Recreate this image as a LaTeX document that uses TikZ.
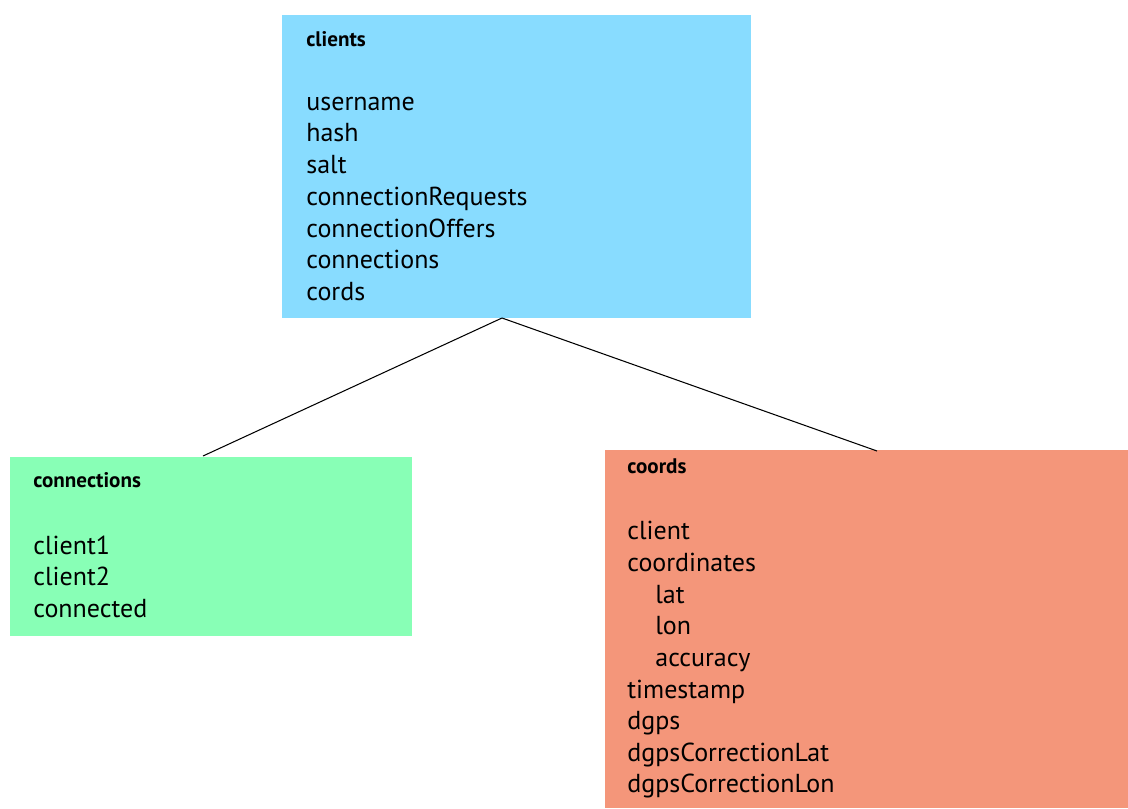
\documentclass[tikz,border=0pt]{standalone}
\usepackage{fontspec}
\setmainfont{PT Sans}
\definecolor{clientblue}{HTML}{88DCFF}
\definecolor{conngreen}{HTML}{88FFB6}
\definecolor{coordsalmon}{HTML}{F4967A}
\begin{document}
\begin{tikzpicture}[x=0.02cm,y=-0.02cm,
  box/.style={inner sep=0pt, outer sep=0pt, draw=none, rectangle},
  title/.style={anchor=base west, inner sep=0pt, font=\fontsize{12}{14}\selectfont\bfseries},
  field/.style={anchor=base west, inner sep=0pt, font=\fontsize{14.8}{17}\selectfont},
  link/.style={draw=black, line width=0.6pt}]
\useasboundingbox (0,0) rectangle (1128,808);
% boxes
\node[box, fill=clientblue, minimum width=9.38cm, minimum height=6.06cm] (clients) at (516.5,166.5) {};
\node[box, fill=conngreen, minimum width=8.04cm, minimum height=3.58cm] (connections) at (211,546.5) {};
\node[box, fill=coordsalmon, minimum width=10.46cm, minimum height=7.16cm] (coords) at (866.5,629) {};
% connector end points
\coordinate (cTop) at (502,318);
\coordinate (connTop) at (203,456);
\coordinate (coordsTop) at (877,451);
\draw[link] (cTop) -- (connTop);
\draw[link] (cTop) -- (coordsTop);
% clients text
\node[title] (t1) at (306,46) {clients};
\foreach \t [count=\i] in {username,hash,salt,connectionRequests,connectionOffers,connections,cords}
  \node[field] (cl\i) at (306,{78.5+31.7*\i}) {\t};
% connections text
\node[title] (t2) at (33,487) {connections};
\foreach \t [count=\i] in {client1,client2,connected}
  \node[field] (cn\i) at (33,{523.5+31.2*\i}) {\t};
% coords text
\node[title] (t3) at (627,473) {coords};
\node[field] (co1) at (627,539) {client};
\node[field] (co2) at (627,571) {coordinates};
\node[field] (co3) at (655,603) {lat};
\node[field] (co4) at (655,634) {lon};
\node[field] (co5) at (655,666) {accuracy};
\node[field] (co6) at (627,698) {timestamp};
\node[field] (co7) at (627,729) {dgps};
\node[field] (co8) at (627,761) {dgpsCorrectionLat};
\node[field] (co9) at (627,792) {dgpsCorrectionLon};
\end{tikzpicture}
\end{document}
